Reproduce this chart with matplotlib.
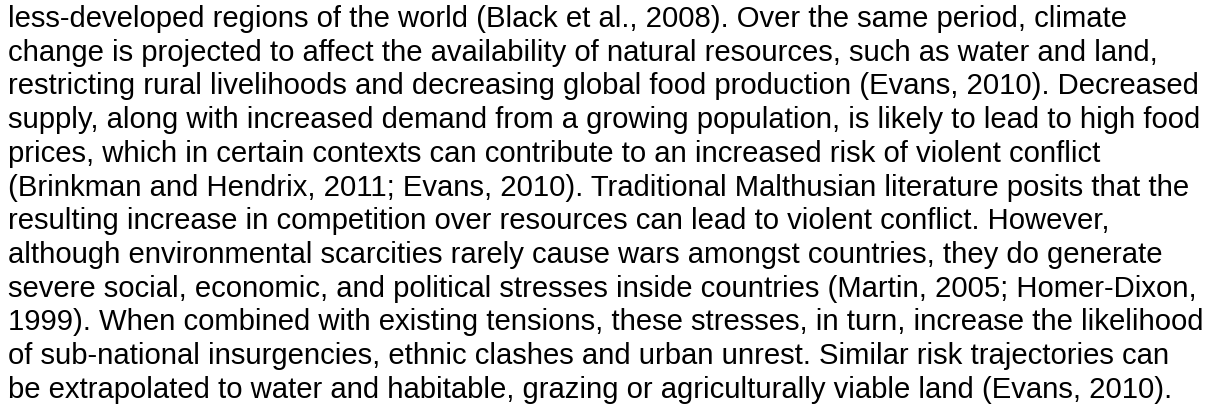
import matplotlib
matplotlib.use("Agg")
import matplotlib.pyplot as plt

W, H = 1217, 407
lines = [
    "less-developed regions of the world (Black et al., 2008). Over the same period, climate",
    "change is projected to affect the availability of natural resources, such as water and land,",
    "restricting rural livelihoods and decreasing global food production (Evans, 2010). Decreased",
    "supply, along with increased demand from a growing population, is likely to lead to high food",
    "prices, which in certain contexts can contribute to an increased risk of violent conflict",
    "(Brinkman and Hendrix, 2011; Evans, 2010). Traditional Malthusian literature posits that the",
    "resulting increase in competition over resources can lead to violent conflict. However,",
    "although environmental scarcities rarely cause wars amongst countries, they do generate",
    "severe social, economic, and political stresses inside countries (Martin, 2005; Homer-Dixon,",
    "1999). When combined with existing tensions, these stresses, in turn, increase the likelihood",
    "of sub-national insurgencies, ethnic clashes and urban unrest. Similar risk trajectories can",
    "be extrapolated to water and habitable, grazing or agriculturally viable land (Evans, 2010).",
]

fig = plt.figure(figsize=(W / 100, H / 100), dpi=100)
fig.patch.set_facecolor("white")
x0 = 8
y0 = 27
step = 33.7
for i, s in enumerate(lines):
    fig.text(x0 / W, 1 - (y0 + i * step) / H, s, fontsize=21.1,
             family=["Liberation Sans", "DejaVu Sans"], color="black",
             va="baseline", ha="left")
fig.savefig("out.png", dpi=100, facecolor="white")
